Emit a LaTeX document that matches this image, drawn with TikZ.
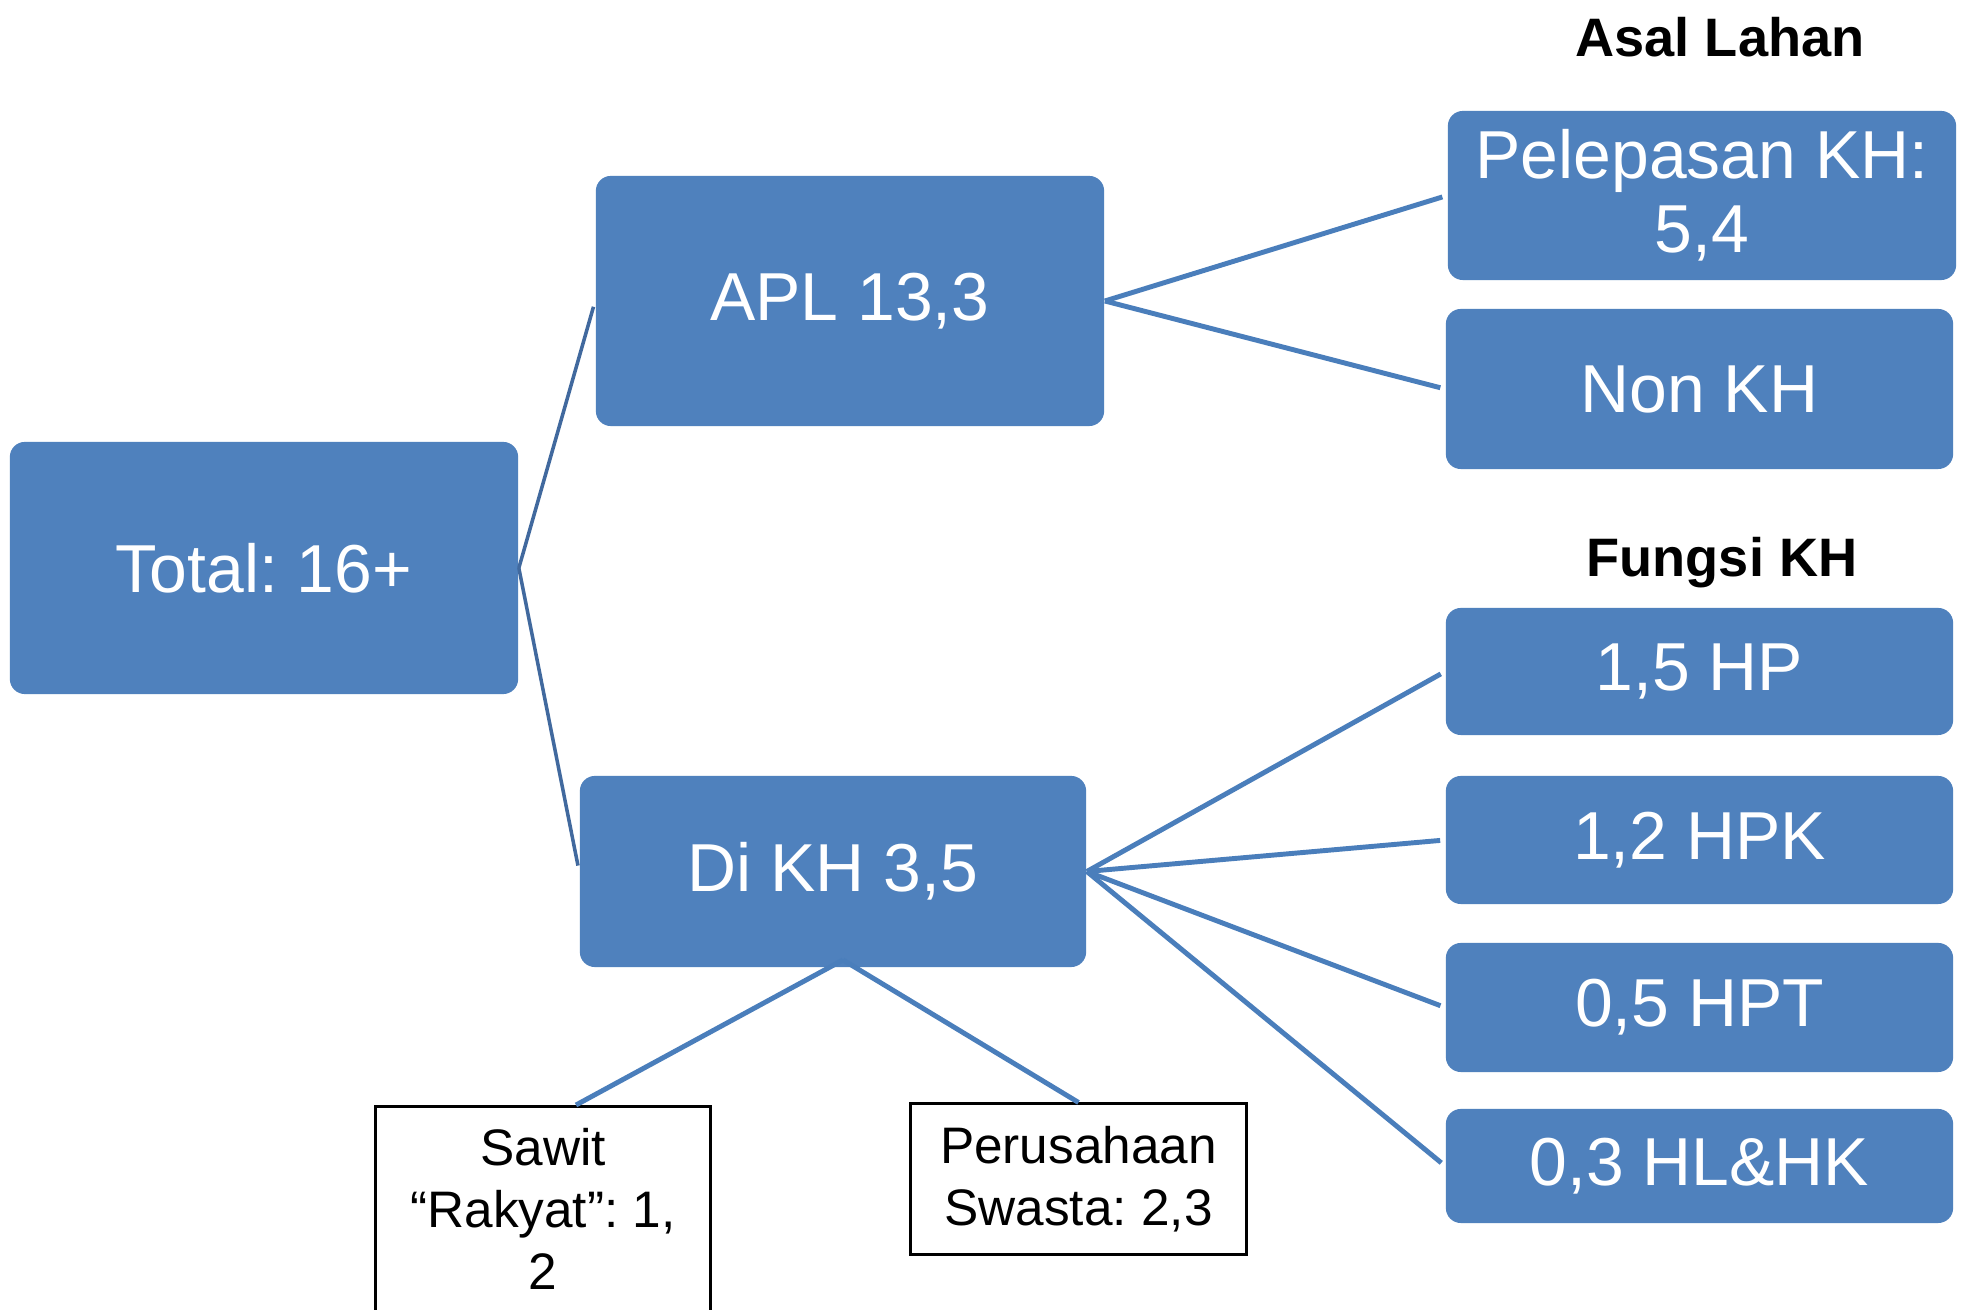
\documentclass[tikz,border=0pt]{standalone}
\usepackage{fontspec}
\setmainfont{Liberation Sans}
\frenchspacing
\definecolor{boxblue}{HTML}{4F81BD}
\definecolor{lineblue}{HTML}{4A7EBB}
\definecolor{darkline}{HTML}{41699E}
\begin{document}
\frenchspacing
\begin{tikzpicture}[x=0.01cm,y=-0.01cm,
  bluebox/.style={rounded corners=0.15cm, fill=boxblue, draw=none, text=white, align=center, inner sep=0pt,
    font=\fontsize{19.3pt}{21pt}\selectfont},
  plainbox/.style={draw=black, line width=0.85pt, fill=white, align=center, inner sep=0pt,
    font=\fontsize{14.6pt}{17.6pt}\selectfont},
  title/.style={font=\fontsize{15.4pt}{18pt}\selectfont\bfseries, inner sep=0pt},
  conn/.style={lineblue, line width=1.4pt, shorten >=0.05cm},
  connd/.style={darkline, line width=1.0pt, shorten >=0.06cm}
]
\clip (0,0) rectangle (1971,1310);
\fill[white] (0,0) rectangle (1971,1310);

\node[bluebox, minimum width=5.08cm, minimum height=2.52cm] (total) at (264,568) {Total: 16+};
\node[bluebox, minimum width=5.08cm, minimum height=2.50cm] (apl) at (850,301) {APL 13,3};
\node[bluebox, minimum width=5.06cm, minimum height=1.91cm] (dikh) at (833,871.5) {Di KH 3,5};

\node[bluebox, minimum width=5.08cm, minimum height=1.69cm] (pel) at (1702,195.5) {Pelepasan KH:\\5,4};
\node[bluebox, minimum width=5.07cm, minimum height=1.60cm] (non) at (1699.5,389) {Non KH};
\node[bluebox, minimum width=5.07cm, minimum height=1.27cm] (hp) at (1699.5,671.5) {1,5 HP};
\node[bluebox, minimum width=5.07cm, minimum height=1.28cm] (hpk) at (1699.5,840) {1,2 HPK};
\node[bluebox, minimum width=5.07cm, minimum height=1.29cm] (hpt) at (1699.5,1007.5) {0,5 HPT};
\node[bluebox, minimum width=5.07cm, minimum height=1.14cm] (hl) at (1699.5,1166) {0,3 HL\&HK};

\node[title] (asal) at (1720,37) {Asal Lahan};
\node[title] (fungsi) at (1722,563) {Fungsi KH};

\node[plainbox, anchor=north, minimum width=3.34cm, text depth=0pt, inner ysep=0.22cm] (sawit) at (543,1105)
  {Sawit\\“Rakyat”: 1,\\2\\[0.6cm]};
\node[plainbox, minimum width=3.35cm, minimum height=1.50cm] (pers) at (1078.5,1179) {Perusahaan\\Swasta: 2,3};

\coordinate (apex) at (843,960);

\draw[connd] (total.east) -- (apl.west);
\draw[connd] (total.east) -- (dikh.west);
\draw[conn] (apl.east) -- (pel.west);
\draw[conn] (apl.east) -- (non.west);
\draw[conn] (dikh.east) -- (hp.west);
\draw[conn] (dikh.east) -- (hpk.west);
\draw[conn] (dikh.east) -- (hpt.west);
\draw[conn] (dikh.east) -- (hl.west);
\draw[conn, shorten >=0pt] (apex) -- ([xshift=0.33cm]sawit.north);
\draw[conn, shorten >=0pt] (apex) -- (pers.north);
\end{tikzpicture}
\end{document}
